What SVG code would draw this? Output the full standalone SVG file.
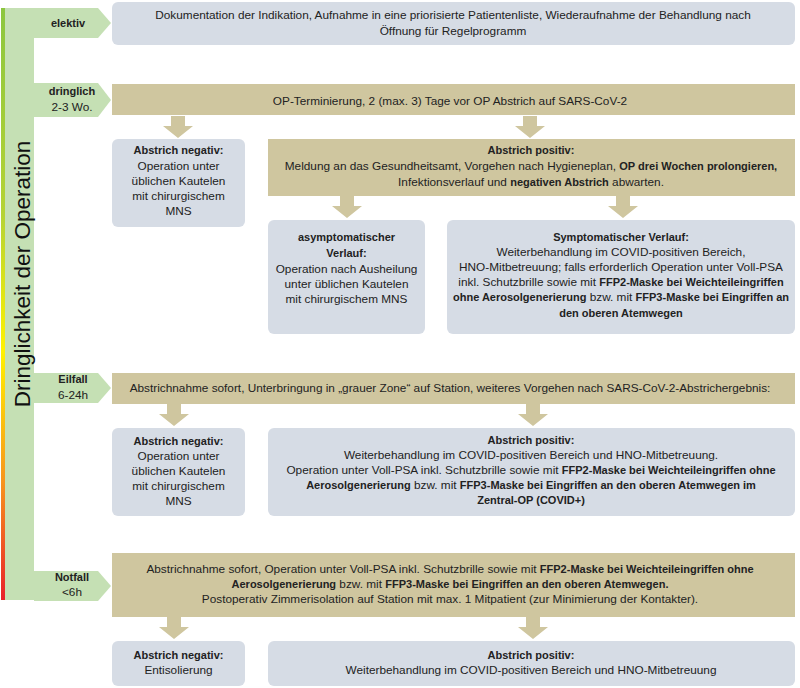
<svg xmlns="http://www.w3.org/2000/svg" width="800" height="688" viewBox="0 0 800 688">
<defs>
<linearGradient id="urg" x1="0" y1="0" x2="0" y2="1">
<stop offset="0" stop-color="#8cc63f"/>
<stop offset="0.35" stop-color="#b5d334"/>
<stop offset="0.58" stop-color="#fff200"/>
<stop offset="0.8" stop-color="#f7941d"/>
<stop offset="1" stop-color="#e8202a"/>
</linearGradient>
<path id="arr" d="M-7,0 h14 v10 h8 l-15,12 l-15,-12 h8 z"/>
</defs>
<style>
text{font-family:"Liberation Sans",Arial,sans-serif;font-size:11.8px;fill:#222;text-anchor:middle}
.b{font-weight:bold;font-size:11px}
.g{fill:#d6dce5}
.t{fill:#cfc69f}
.tab{fill:#c5e0b4}
.title{font-size:22.5px;fill:#111}
.a{fill:#cfc69f}
</style>
<rect width="800" height="688" fill="#ffffff"/>
<g id="urgency-axis">
<rect x="1" y="8" width="4" height="592" fill="url(#urg)"/>
<rect class="tab" x="5" y="8" width="29" height="592"/>
<path class="tab" d="M34,8 H98 L111,23 L98,38 H34 Z"/>
<path class="tab" d="M34,83 H98 L111,100 L98,117 H34 Z"/>
<path class="tab" d="M34,373 H98 L111,388 L98,403 H34 Z"/>
<path class="tab" d="M34,571 H98 L111,586 L98,601 H34 Z"/>
<text class="title" transform="translate(30,274) rotate(-90)">Dringlichkeit der Operation</text>
<text class="b" x="68" y="27">elektiv</text>
<text class="b" x="72" y="95">dringlich</text>
<text x="72" y="111">2-3 Wo.</text>
<text class="b" x="73" y="383">Eilfall</text>
<text x="73" y="399">6-24h</text>
<text class="b" x="72" y="581">Notfall</text>
<text x="72" y="596">&lt;6h</text>
</g>
<g id="connectors">
<use href="#arr" class="a" x="178" y="116"/>
<use href="#arr" class="a" x="530" y="116"/>
<use href="#arr" class="a" x="347" y="196"/>
<use href="#arr" class="a" x="623" y="196"/>
<use href="#arr" class="a" x="174" y="404"/>
<use href="#arr" class="a" x="533" y="404"/>
<use href="#arr" class="a" x="174" y="617"/>
<use href="#arr" class="a" x="533" y="617"/>
</g>
<g id="elektiv">
<rect class="g" x="112" y="2" width="683" height="43" rx="6"/>
<text x="453" y="19">Dokumentation der Indikation, Aufnahme in eine priorisierte Patientenliste, Wiederaufnahme der Behandlung nach</text>
<text x="453" y="35">Öffnung für Regelprogramm</text>
</g>
<g id="dringlich">
<rect class="t" x="112" y="84" width="683" height="31"/>
<text x="450" y="105">OP-Terminierung, 2 (max. 3) Tage vor OP Abstrich auf SARS-CoV-2</text>
</g>
<g id="dringlich-negativ">
<rect class="g" x="112" y="139" width="133" height="88" rx="6"/>
<text class="b" x="178.5" y="154">Abstrich negativ:</text>
<text x="178.5" y="170">Operation unter</text>
<text x="178.5" y="185">üblichen Kautelen</text>
<text x="178.5" y="200">mit chirurgischem</text>
<text x="178.5" y="215">MNS</text>
</g>
<g id="dringlich-positiv">
<rect class="t" x="268" y="139" width="527" height="57"/>
<text class="b" x="531" y="154">Abstrich positiv:</text>
<text x="531" y="170">Meldung an das Gesundheitsamt, Vorgehen nach Hygieneplan, <tspan class="b">OP drei Wochen prolongieren,</tspan></text>
<text x="531" y="186">Infektionsverlauf und <tspan class="b">negativen Abstrich</tspan> abwarten.</text>
</g>
<g id="asymptomatisch">
<rect class="g" x="268" y="220" width="157" height="114" rx="6"/>
<text class="b" x="346.5" y="241">asymptomatischer</text>
<text class="b" x="346.5" y="257">Verlauf:</text>
<text x="346.5" y="273">Operation nach Ausheilung</text>
<text x="346.5" y="288">unter üblichen Kautelen</text>
<text x="346.5" y="303">mit chirurgischem MNS</text>
</g>
<g id="symptomatisch">
<rect class="g" x="447" y="220" width="348" height="114" rx="6"/>
<text class="b" x="621" y="241">Symptomatischer Verlauf:</text>
<text x="621" y="256">Weiterbehandlung im COVID-positiven Bereich,</text>
<text x="621" y="271">HNO-Mitbetreuung; falls erforderlich Operation unter Voll-PSA</text>
<text x="621" y="286">inkl. Schutzbrille sowie mit <tspan class="b">FFP2-Maske bei Weichteileingriffen</tspan></text>
<text x="621" y="301"><tspan class="b">ohne Aerosolgenerierung</tspan> bzw. mit <tspan class="b">FFP3-Maske bei Eingriffen an</tspan></text>
<text class="b" x="621" y="317">den oberen Atemwegen</text>
</g>
<g id="eilfall">
<rect class="t" x="112" y="373" width="683" height="31"/>
<text x="450" y="392">Abstrichnahme sofort, Unterbringung in „grauer Zone“ auf Station, weiteres Vorgehen nach SARS-CoV-2-Abstrichergebnis:</text>
</g>
<g id="eilfall-negativ">
<rect class="g" x="112" y="428" width="133" height="88" rx="6"/>
<text class="b" x="178.5" y="445">Abstrich negativ:</text>
<text x="178.5" y="460">Operation unter</text>
<text x="178.5" y="475">üblichen Kautelen</text>
<text x="178.5" y="490">mit chirurgischem</text>
<text x="178.5" y="505">MNS</text>
</g>
<g id="eilfall-positiv">
<rect class="g" x="268" y="428" width="527" height="88" rx="6"/>
<text class="b" x="531" y="444">Abstrich positiv:</text>
<text x="531" y="459">Weiterbehandlung im COVID-positiven Bereich und HNO-Mitbetreuung.</text>
<text x="531" y="474">Operation unter Voll-PSA inkl. Schutzbrille sowie mit <tspan class="b">FFP2-Maske bei Weichteileingriffen ohne</tspan></text>
<text x="531" y="489"><tspan class="b">Aerosolgenerierung</tspan> bzw. mit <tspan class="b">FFP3-Maske bei Eingriffen an den oberen Atemwegen im</tspan></text>
<text class="b" x="531" y="504">Zentral-OP (COVID+)</text>
</g>
<g id="notfall">
<rect class="t" x="112" y="553" width="683" height="64"/>
<text x="450" y="573">Abstrichnahme sofort, Operation unter Voll-PSA inkl. Schutzbrille sowie mit <tspan class="b">FFP2-Maske bei Weichteileingriffen ohne</tspan></text>
<text x="450" y="588"><tspan class="b">Aerosolgenerierung</tspan> bzw. mit <tspan class="b">FFP3-Maske bei Eingriffen an den oberen Atemwegen.</tspan></text>
<text x="450" y="603">Postoperativ Zimmerisolation auf Station mit max. 1 Mitpatient (zur Minimierung der Kontakter).</text>
</g>
<g id="notfall-negativ">
<rect class="g" x="112" y="641" width="133" height="45" rx="6"/>
<text class="b" x="178.5" y="659">Abstrich negativ:</text>
<text x="178.5" y="674">Entisolierung</text>
</g>
<g id="notfall-positiv">
<rect class="g" x="268" y="641" width="527" height="45" rx="6"/>
<text class="b" x="531" y="659">Abstrich positiv:</text>
<text x="531" y="674">Weiterbehandlung im COVID-positiven Bereich und HNO-Mitbetreuung</text>
</g>
</svg>
